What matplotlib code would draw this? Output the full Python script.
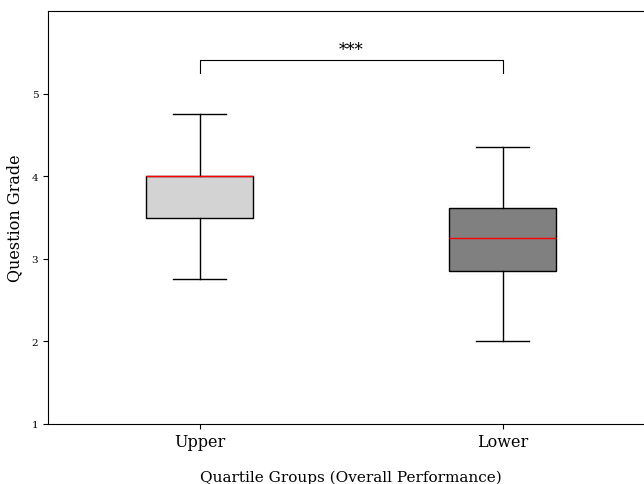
import matplotlib.pyplot as plt

plt.rcParams["font.family"] = "DejaVu Serif"

groups = ["Upper", "Lower"]
whisker_low = [2.75, 2.0]
q1 = [3.5, 2.85]
medians = [4.0, 3.25]
q3 = [4.0, 3.62]
whisker_high = [4.75, 4.35]
box_colors = ["lightgray", "gray"]

stats = []
for i, name in enumerate(groups):
    stats.append(
        {
            "label": name,
            "whislo": whisker_low[i],
            "q1": q1[i],
            "med": medians[i],
            "q3": q3[i],
            "whishi": whisker_high[i],
            "fliers": [],
        }
    )

fig = plt.figure(figsize=(6.44, 4.85), dpi=100)
ax = fig.add_axes([48 / 644, 1 - 425 / 485, 606 / 644, 413 / 485])

bp = ax.bxp(
    stats,
    positions=[0, 1],
    widths=0.35,
    patch_artist=True,
    showfliers=False,
    medianprops={"color": "red", "linewidth": 1},
    boxprops={"edgecolor": "black", "linewidth": 1},
    whiskerprops={"color": "black", "linewidth": 1},
    capprops={"color": "black", "linewidth": 1},
)
for patch, color in zip(bp["boxes"], box_colors):
    patch.set_facecolor(color)

# significance bracket
y, h = 5.25, 0.16
ax.plot([0, 0, 1, 1], [y, y + h, y + h, y], color="black", linewidth=0.8)
ax.text(0.5, y + h + 0.02, "***", ha="center", va="bottom", fontsize=12)

ax.set_xlim(-0.5, 1.5)
ax.set_ylim(1, 6)
ax.set_yticks([1, 2, 3, 4, 5])
ax.tick_params(axis="y", labelsize=7.5)
ax.tick_params(axis="x", labelsize=11.5, pad=3)
ax.set_ylabel("Question Grade", fontsize=11.5, labelpad=6)
ax.set_xlabel("Quartile Groups (Overall Performance)", fontsize=11, labelpad=14)

fig.savefig("out.png", dpi=100)
